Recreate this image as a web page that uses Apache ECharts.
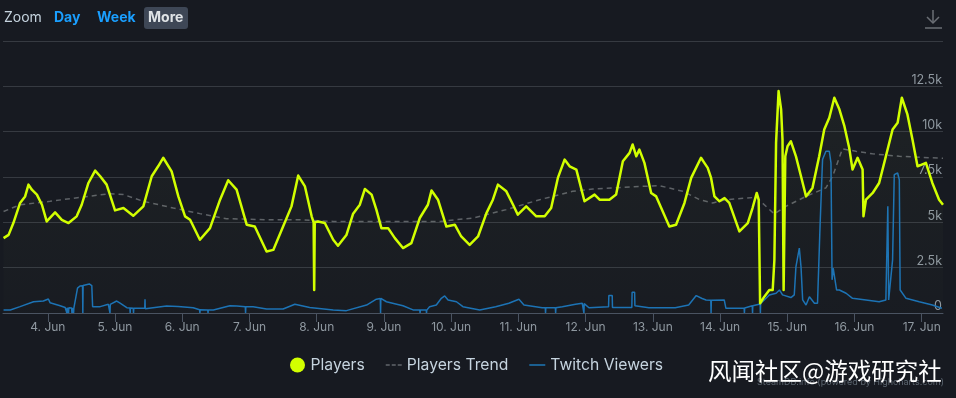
<!DOCTYPE html>
<html>
<head>
<meta charset="utf-8">
<script src="https://cdn.jsdelivr.net/npm/echarts@6/dist/echarts.min.js"></script>
<style>
  html, body { margin: 0; padding: 0; background: #171a21; }
  #chart { width: 956px; height: 398px; }
</style>
</head>
<body>
<div id="chart"></div>
<script>
// hours since 3 Jun 00:00
var dayTicks = [24, 48, 72, 96, 120, 144, 168, 192, 216, 240, 264, 288, 312, 336]
var yTicks = [0, 2500, 5000, 7500, 10000, 12500, 15000]

// players [hour, value]
var players = [
  [8.2,4130],[10,4310],[11.7,4960],[14.1,6070],[15.9,6430],[17.1,7080],[18.3,6800],[20.1,6530],[21.9,5970],[23.6,5050],
  [26.6,5550],[29,5140],[31.4,4960],[34.3,5330],[36.1,5970],[38.5,7170],[40.9,7850],[42.7,7540],[45,7080],[48,5660],
  [51,5790],[54.5,5360],[58.1,5880],[61.1,7540],[63.4,8090],[65.2,8560],[68.2,7810],[70.6,6430],[73,5330],[74.8,5140],
  [78.3,4040],[81.9,4680],[85.5,6250],[88.4,7320],[91.4,6800],[95,4870],[97.9,4770],[102.1,3390],[104.5,3480],[108,4770],
  [111,5880],[113.4,7580],[115.8,6980],[118.2,5330],[118.9,5000],[119.1,1270],[119.3,5000],[120.5,5050],[122.9,4960],
  [125.9,4040],[127.6,3710],[130.6,4300],[133,5480],[135.4,5970],[137.2,6840],[139.6,6530],[141.3,5700],[143.1,4680],
  [145.5,4680],[147.9,4130],[150.8,3580],[153.8,3850],[156.8,5240],[159.7,5970],[161,6760],[163.3,6250],[166.3,4770],
  [169.3,4870],[171.6,4220],[174.6,3760],[177.6,4220],[180.6,5510],[182.9,6250],[184.7,7080],[187.7,6710],[190.1,5970],
  [191.8,5420],[194.8,5880],[198.4,5330],[201.4,5330],[203.7,5790],[206.1,7450],[208.5,8460],[210.3,8090],[212.7,7910],
  [215.6,6160],[219.2,6530],[221,6250],[224.5,6250],[226.9,6530],[229.3,8370],[231.7,8830],[232.8,9290],[234.1,8640],
  [235.2,9010],[237,8280],[239.4,6620],[241.2,6430],[245.9,4770],[248.3,4870],[251.3,6070],[253.7,7450],[257.2,8560],
  [258.4,8280],[259.6,8000],[260.8,7450],[262,6430],[263.8,6160],[265.6,6340],[267.3,6070],[270.9,4500],[273.9,4960],
  [275.6,5790],[277.1,6620],[277.8,6250],[278.3,540],[279.8,900],[281.6,1270],[282.8,1270],[283.4,2930],[284,9380],
  [284.9,12240],[285.8,11230],[286.3,9570],[286.7,1270],[287.3,8640],[288.1,9200],[289.3,9470],[291.1,8640],[292.9,7540],
  [294.7,6430],[297,6900],[299.4,8640],[301.2,10120],[303,10770],[304.8,11870],[306.6,11230],[308.4,10300],[310.1,9110],
  [311.3,7910],[313.1,8560],[314.9,7910],[315.2,5330],[316.1,6250],[318.5,6620],[320.8,7170],[323.2,8640],[325.6,10120],
  [327.4,10490],[328.9,11870],[330.9,10950],[332.7,9570],[334.5,8090],[337.5,8280],[339.8,7170],[342.2,6250],[343.6,5970]
]

var trend = [
  [8.2,5600],[14.1,5970],[24.8,6160],[36.7,6400],[46.2,6580],[51,6530],[58.1,6160],[68.8,5790],[78.3,5480],[87.8,5200],
  [102.1,5140],[114,5140],[125.9,5050],[163.9,5050],[175.8,5240],[187.7,5700],[199.6,6250],[211.4,6710],[218.6,6840],
  [235.2,6980],[242.4,7020],[250.7,6710],[256.7,6250],[261.4,6070],[266.2,6250],[276.9,6380],[283.4,5460],[287.5,5880],
  [294.7,6430],[301.8,6900],[304.2,7540],[307.7,9050],[312.5,8920],[318.4,8780],[328,8640],[343.6,8530]
]

var twitch = [
  [8.2,170],[10.6,170],[14.1,350],[18.9,620],[22.4,660],[24.2,770],[24.8,570],[28.4,400],[30.2,300],
  [30.7,290],[30.8,0],[30.9,290],[31.3,290],[31.4,0],[31.5,290],[32.5,280],[32.6,0],[32.7,280],[33.1,270],[33.2,0],[33.3,270],
  [33.8,260],[34.6,1370],[35.5,1490],[36.4,1500],[36.5,0],[36.6,1520],[37.3,1550],[38.8,1600],[39.7,1510],[40,350],
  [42.7,350],[45.6,480],[46.1,470],[46.2,0],[46.3,480],[48.6,660],[49.8,540],[52.2,290],[53.3,280],[53.4,0],[53.5,280],
  [54.5,260],[54.6,0],[54.7,260],[58.6,260],[58.7,760],[58.8,230],[66.4,390],[70.5,360],[75.9,290],
  [78.2,180],[78.3,0],[78.4,180],[81.1,170],[81.2,0],[81.3,170],[83.1,170],[89,400],[91.5,380],[94.5,350],[94.6,0],[94.7,350],
  [97.3,340],[102.1,220],[108,220],[112.2,480],[117.5,300],[125.9,170],[130.6,130],[137.8,440],[141.3,760],[142.7,800],
  [142.8,0],[142.9,810],[144.9,620],[150.8,400],[154.4,170],[156.8,160],[156.9,0],[157,160],[159.1,160],[159.2,0],[159.3,160],
  [160.3,350],[162.7,440],[164.5,810],[165.7,940],[166.9,720],[169.9,620],[172.2,350],[178.2,170],[183.9,350],[188.6,540],
  [192.2,760],[194,440],[200.5,290],[201.6,290],[201.7,0],[201.8,290],[205.2,290],[205.3,0],[205.4,290],[207.7,350],
  [212.4,480],[214.8,540],[215.3,530],[215.4,0],[215.5,520],[217.2,290],[224.2,350],[224.3,960],[225.5,960],[225.6,300],
  [232.5,300],[232.6,1140],[233.5,1140],[233.6,400],[238.6,290],[248,290],[252.8,440],[255.5,960],[257.6,800],[259,720],
  [260.7,700],[260.8,0],[260.9,700],[265.5,720],[266.1,260],[270.9,260],[272.6,260],[272.7,0],[272.8,280],[275.5,400],
  [275.6,0],[275.7,400],[276.2,440],[278.3,500],[278.4,0],[278.5,520],[281.6,990],[284,1090],[285.2,1270],[286.3,1000],
  [289.3,850],[290.5,1000],[291.1,2560],[292.3,3580],[292.9,2560],[293.5,720],[294.7,440],[295.9,900],[296.5,940],
  [297.7,540],[298.8,540],[299.7,4770],[300.6,8460],[301.8,8920],[303,8920],[303.6,8280],[304,1830],[304.4,2470],
  [305.1,2560],[305.6,1270],[306.6,1270],[309,1090],[311.3,810],[316.1,720],[320.8,620],[323.2,720],[323.7,720],
  [323.9,5880],[324.2,720],[324.4,720],[325.6,2930],[326.2,7630],[327.4,7720],[328,7350],[328.3,1270],[330.4,810],
  [335.1,620],[339.8,440],[343.2,260]
]

var chart = echarts.init(document.getElementById('chart'), null, { renderer: 'canvas' })

var option = {
  backgroundColor: '#171a21',
  animation: false,
  grid: { left: 3, right: 13, top: 41, bottom: 85 },
  xAxis: {
    type: 'value',
    min: 8,
    max: 343.6,
    splitLine: { show: false },
    axisLine: { show: true, onZero: false, lineStyle: { color: '#4a5361', width: 1 } },
    axisTick: { show: true, length: 9, customValues: dayTicks, lineStyle: { color: '#4a5361' } },
    axisLabel: {
      customValues: dayTicks,
      margin: 8,
      color: '#8f98a0',
      fontSize: 12,
      fontFamily: 'Inter',
      formatter: function (v) { return (3 + Math.round(v / 24)) + '. Jun' }
    }
  },
  yAxis: {
    type: 'value',
    position: 'right',
    min: 0,
    max: 15000,
    interval: 2500,
    axisLine: { show: false },
    axisTick: { show: false },
    splitLine: { lineStyle: { color: '#363a41', width: 1 } },
    axisLabel: {
      inside: true,
      margin: 1,
      verticalAlign: 'bottom',
      color: '#8f98a0',
      fontSize: 12.5,
      fontFamily: 'Inter',
      formatter: function (v) {
        if (v === 0) return '0'
        if (v === 15000) return ''
        return (v / 1000) + 'k'
      }
    }
  },
  legend: {
    left: 285,
    top: 352,
    itemGap: 21,
    itemWidth: 16,
    itemHeight: 15,
    textStyle: { color: '#c6d4df', fontSize: 15.7, fontFamily: 'Inter' },
    data: [
      { name: 'Players', icon: 'circle' },
      { name: 'Players Trend', icon: 'path://M0,0h4v2h-4zM6,0h4v2h-4zM12,0h4v2h-4z', itemStyle: { color: '#4e5258' } },
      { name: 'Twitch Viewers', icon: 'path://M0,0h16v2h-16z', itemStyle: { color: '#1b5f90' } }
    ]
  },
  series: [
    {
      name: 'Players Trend',
      type: 'line',
      data: trend,
      symbol: 'none',
      z: 1,
      lineStyle: { color: '#5e6267', width: 1.5, type: [5, 4] },
      itemStyle: { color: '#5e6267' }
    },
    {
      name: 'Twitch Viewers',
      type: 'line',
      data: twitch,
      symbol: 'none',
      z: 2,
      lineStyle: { color: '#1b72b5', width: 1.5 },
      itemStyle: { color: '#1b72b5' }
    },
    {
      name: 'Players',
      type: 'line',
      data: players,
      symbol: 'none',
      z: 3,
      lineStyle: { color: '#d2ff00', width: 2.5, join: 'round' },
      itemStyle: { color: '#d2ff00' },
      areaStyle: {
        color: new echarts.graphic.LinearGradient(0, 0, 0, 1, [
          { offset: 0, color: 'rgba(200,230,120,0.06)' },
          { offset: 1, color: 'rgba(200,230,120,0.01)' }
        ])
      }
    }
  ],
  graphic: [
    { type: 'text', left: 4, top: 11, style: { text: 'Zoom', fill: '#c6d4df', font: '14px Inter' } },
    { type: 'text', left: 54, top: 11, style: { text: 'Day', fill: '#1a9fff', font: 'bold 14px Inter' } },
    { type: 'text', left: 97, top: 11, style: { text: 'Week', fill: '#1a9fff', font: 'bold 14px Inter' } },
    { type: 'rect', left: 144, top: 7, shape: { width: 44, height: 22, r: 3 }, style: { fill: '#3e4756' } },
    { type: 'text', left: 148, top: 11, style: { text: 'More', fill: '#dfe3e6', font: 'bold 14px Inter' } },
    { type: 'line', shape: { x1: 933, y1: 10, x2: 933, y2: 23 }, style: { stroke: '#6b6f75', lineWidth: 1.5 } },
    { type: 'polyline', shape: { points: [[927, 17], [933, 23], [939, 17]] }, style: { stroke: '#6b6f75', lineWidth: 1.5, fill: null } },
    { type: 'line', shape: { x1: 925, y1: 28, x2: 942, y2: 28 }, style: { stroke: '#6b6f75', lineWidth: 1.5 } },
    { type: 'text', left: 757, top: 378, style: { text: 'SteamDB.info (powered by Highcharts.com)', fill: '#5c6670', font: '9px Inter' } },
    { type: 'text', left: 708, top: 359, style: { text: '风闻社区@游戏研究社', fill: '#ffffff', font: '23.5px "Noto Sans CJK SC"' } }
  ]
}

chart.setOption(option)
</script>
</body>
</html>
